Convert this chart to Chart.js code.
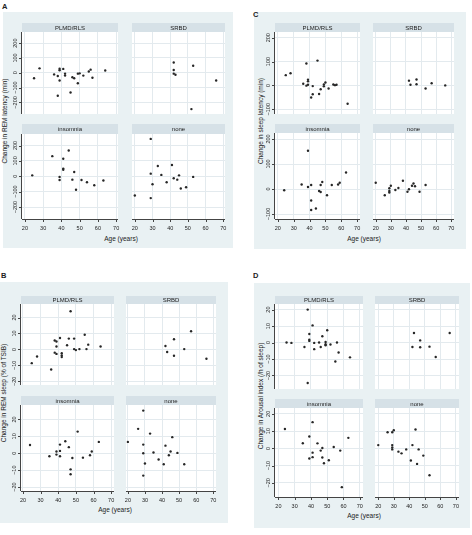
<!DOCTYPE html>
<html>
<head>
<meta charset="utf-8">
<script src="https://cdn.jsdelivr.net/npm/chart.js@4.4.1/dist/chart.umd.min.js"></script>
<style>
  body { margin: 0; width: 472px; height: 535px; background: #fff; position: relative; overflow: hidden;
         font-family: "Liberation Sans", Arial, sans-serif; color: #222; }
  .bg { position: absolute; background: #e9f1f3; }
  .txt { position: absolute; white-space: nowrap; line-height: 1; color: #222; }
  canvas { position: absolute; }
</style>
</head>
<body>
<script>
// Categorias e eixos
const groupNames = ['PLMD/RLS', 'SRBD', 'insomnia', 'none'];
const xTicks = [20, 30, 40, 50, 60, 70];

// A: change in REM latency (min) -- [idade, valor]
const remLatPlmd = [[25,-37],[28,30],[36,-11],[38,-22],[38,-155],[39,28],[39,17],[39,-52],[41,26],[42,-6],[42,-19],[45,-133],[46,-30],[47,-37],[49,-71],[49,-6],[50,-4],[52,-19],[55,9],[56,21],[57,-34],[64,15]];
const remLatSrbd = [[42,-6],[43,-13],[42,69],[42,19],[53,47],[52,-245],[66,-52]];
const remLatInsom = [[24,6],[35,131],[41,114],[44,168],[41,50],[41,42],[39,-4],[39,-24],[47,28],[46,-22],[48,-88],[51,-24],[54,-39],[58,-58],[63,-28]];
const remLatNone = [[20,-125],[29,243],[29,17],[29,-142],[30,-52],[33,67],[35,9],[38,-39],[41,73],[42,-13],[44,-22],[45,6],[46,-80],[49,-71],[53,-4]];

// B: change in REM sleep (% of TSIB)
const remPctPlmd = [[25,-8.6],[28,-4.4],[36,-12.6],[38,5.6],[39,5],[39,1.8],[38,-2],[39,-2.8],[41,7.2],[42,-2.4],[42,-3.8],[42,-4.8],[45,2.6],[46,6.8],[47,24],[49,6.8],[49,0.2],[50,-0.4],[52,0.2],[55,9.2],[56,0.2],[57,3],[64,1.8]];
const remPctSrbd = [[42,2.2],[43,-1.6],[47,6.4],[47,-4],[53,0.2],[57,11.4],[66,-5.8]];
const remPctInsom = [[24,4.9],[35,-1.8],[39,1],[39,-0.8],[41,5.1],[41,1.4],[41,-1.8],[44,7.1],[46,3.6],[47,-9.5],[47,-12.4],[48,-2.8],[51,12.8],[54,-2.6],[58,-1.2],[59,1],[63,6.7]];
const remPctNone = [[20,6.7],[26,14.4],[29,25.2],[29,5.1],[29,0],[29,-13.2],[30,-6.1],[33,11.6],[35,0.4],[38,-3.7],[41,-6.5],[42,4.5],[44,-1.2],[45,1],[46,9.5],[49,0.2],[53,-6.5]];

// C: change in sleep latency (min)
const slLatPlmd = [[25,43],[28,51],[36,7],[38,92],[38,-1],[39,3],[39,24],[39,17],[41,-51],[42,-37],[42,-3],[45,104],[46,-36],[47,-16],[49,-4],[49,4],[50,12],[52,-13],[55,4],[56,1],[57,3],[64,-77]];
const slLatSrbd = [[42,20],[43,3],[47,25],[47,5],[53,-13],[57,9],[66,0]];
const slLatInsom = [[24,-5],[35,18],[39,153],[39,8],[41,16],[41,-46],[41,-84],[44,-78],[46,-8],[47,-12],[47,16],[48,28],[51,-25],[54,16],[58,18],[59,25],[63,66]];
const slLatNone = [[20,25],[26,-25],[29,3],[29,-8],[29,-14],[30,13],[33,-4],[35,4],[38,33],[41,-11],[42,-1],[44,13],[45,22],[46,11],[49,-11],[53,16]];

// D: change in arousal index (/h of sleep)
const arPlmd = [[25,0],[28,-0.2],[36,-2.7],[38,20],[38,-24.6],[39,5.2],[39,1.7],[39,1],[41,10.4],[42,-0.2],[42,-4],[45,0],[46,-2.7],[47,3.8],[49,0.4],[49,-1],[49,-1.7],[50,7.5],[52,-1.2],[55,-11.5],[56,0],[57,-6],[64,-9]];
const arSrbd = [[42,-2.7],[43,5.8],[47,1.3],[47,-2.9],[53,-2.5],[57,-8.8],[66,5.8]];
const arInsom = [[24,11.2],[35,3],[39,6.9],[39,-5.9],[41,15.2],[41,-2.5],[41,-5.1],[44,2.9],[46,-1.3],[47,0.2],[47,-5.3],[48,-8.6],[51,-6.9],[54,0.8],[58,-1.3],[59,-22.5],[63,6.1]];
const arNone = [[20,1.9],[26,9.3],[29,9.3],[29,1.9],[29,0.5],[29,-0.6],[30,10.5],[33,-1.9],[35,-2.9],[38,-0.6],[41,-7],[42,1.9],[44,10.9],[45,-9],[46,-0.6],[49,-4.2],[53,-15.6]];

// Layout de cada painel
const panels = [
  { letter: 'A', letterXY: [2, 3], bg: [3, 12, 230, 236],
    cols: [[22, 122], [128, 229]], rows: [[23, 32, 118], [124, 134, 219]],
    xRange: [18.4, 71], yRange: [-278, 275], yTicks: [-200, -100, 0, 100, 200],
    yTitle: 'Change in REM latency (min)', yTitleXY: [5, 121], xTitleXY: [121, 239],
    sets: [remLatPlmd, remLatSrbd, remLatInsom, remLatNone] },
  { letter: 'C', letterXY: [253, 11], bg: [254, 12, 212, 237],
    cols: [[275, 364], [369, 458]], rows: [[23, 32, 118], [124, 133, 219]],
    xRange: [18.2, 71.8], yRange: [-120, 224], yTicks: [-100, 0, 100, 200],
    yTitle: 'Change in sleep latency (min)', yTitleXY: [261, 121], xTitleXY: [364, 239],
    sets: [slLatPlmd, slLatSrbd, slLatInsom, slLatNone] },
  { letter: 'B', letterXY: [1, 272], bg: [0, 282, 228, 241],
    cols: [[21, 118], [122, 220]], rows: [[296, 304, 389], [396, 405, 491]],
    xRange: [18.9, 71.6], yRange: [-22.3, 28.5], yTicks: [-20, -10, 0, 10, 20],
    yTitle: 'Change in REM sleep (% of TSIB)', yTitleXY: [4, 393], xTitleXY: [115, 510],
    sets: [remPctPlmd, remPctSrbd, remPctInsom, remPctNone] },
  { letter: 'D', letterXY: [253, 272], bg: [254, 283, 216, 245],
    cols: [[275, 367], [371, 463]], rows: [[296, 304, 393], [399, 408, 497]],
    xRange: [17.9, 72], yRange: [-28.2, 23.4], yTicks: [-20, -10, 0, 10, 20],
    yTitle: 'Change in Arousal index (/h of sleep)', yTitleXY: [261, 396], xTitleXY: [364, 516],
    sets: [arPlmd, arSrbd, arInsom, arNone] }
];

const gridColor = '#e3eaee';
const stripColor = '#d6e1e7';
const axisColor = '#444';
const tickFont = '5.5px "Liberation Sans", Arial, sans-serif';

function fmt(v) {
  return v < 0 ? '\u2212' + Math.abs(v) : String(v);
}

function addText(str, x, y, css) {
  const d = document.createElement('div');
  d.className = 'txt';
  d.textContent = str;
  d.style.left = x + 'px';
  d.style.top = y + 'px';
  Object.assign(d.style, css);
  document.body.appendChild(d);
}

// Plugin: fundo do plot, faixa com o nome do grupo, eixos com marcas
const facetPlugin = {
  id: 'facet',
  beforeDraw(chart) {
    const a = chart.chartArea, ctx = chart.ctx, o = chart.options.facet;
    ctx.save();
    ctx.fillStyle = '#fff';
    ctx.fillRect(a.left, a.top, a.right - a.left, a.bottom - a.top);
    ctx.fillStyle = stripColor;
    ctx.fillRect(a.left, 0, a.right - a.left, a.top);
    ctx.fillStyle = '#222';
    ctx.font = '6px "Liberation Sans", Arial, sans-serif';
    ctx.textAlign = 'center';
    ctx.textBaseline = 'middle';
    ctx.fillText(o.name, (a.left + a.right) / 2, a.top / 2 + 0.5);
    ctx.restore();
  },
  afterDraw(chart) {
    const a = chart.chartArea, ctx = chart.ctx, o = chart.options.facet;
    const xs = chart.scales.x, ys = chart.scales.y;
    ctx.save();
    ctx.strokeStyle = axisColor;
    ctx.fillStyle = '#222';
    ctx.lineWidth = 1;
    ctx.font = tickFont;
    if (o.showY) {
      ctx.beginPath();
      ctx.moveTo(a.left - 0.5, a.top);
      ctx.lineTo(a.left - 0.5, a.bottom);
      o.yTicks.forEach(v => {
        const py = Math.round(ys.getPixelForValue(v)) + 0.5;
        ctx.moveTo(a.left - 3, py);
        ctx.lineTo(a.left, py);
      });
      ctx.stroke();
      ctx.textAlign = 'center';
      ctx.textBaseline = 'middle';
      o.yTicks.forEach(v => {
        ctx.save();
        ctx.translate(a.left - 6.5, ys.getPixelForValue(v));
        ctx.rotate(-Math.PI / 2);
        ctx.fillText(fmt(v), 0, 0);
        ctx.restore();
      });
    }
    if (o.showX) {
      ctx.beginPath();
      ctx.moveTo(a.left, a.bottom + 0.5);
      ctx.lineTo(a.right, a.bottom + 0.5);
      xTicks.forEach(v => {
        const px = Math.round(xs.getPixelForValue(v)) + 0.5;
        ctx.moveTo(px, a.bottom);
        ctx.lineTo(px, a.bottom + 3);
      });
      ctx.stroke();
      ctx.textAlign = 'center';
      ctx.textBaseline = 'middle';
      xTicks.forEach(v => {
        ctx.fillText(String(v), xs.getPixelForValue(v), a.bottom + 9);
      });
    }
    ctx.restore();
  }
};

function makeFacet(p, gi) {
  const c = gi % 2, r = Math.floor(gi / 2);
  const [L, R] = p.cols[c];
  const [sT, T, B] = p.rows[r];
  const padL = c === 0 ? 14 : 0;
  const padB = r === 1 ? 14 : 0;
  const cv = document.createElement('canvas');
  cv.width = R - L + padL;
  cv.height = B - sT + padB;
  cv.style.left = (L - padL) + 'px';
  cv.style.top = sT + 'px';
  document.body.appendChild(cv);

  new Chart(cv, {
    type: 'scatter',
    data: {
      datasets: [{
        data: p.sets[gi].map(([x, y]) => ({ x, y })),
        pointRadius: 1.2,
        pointBackgroundColor: '#262626',
        pointBorderWidth: 0
      }]
    },
    options: {
      responsive: false,
      animation: false,
      events: [],
      layout: { padding: { left: padL, right: 0, top: T - sT, bottom: padB } },
      plugins: { legend: { display: false }, tooltip: { enabled: false } },
      facet: { name: groupNames[gi], showY: c === 0, showX: r === 1, yTicks: p.yTicks },
      scales: {
        x: {
          type: 'linear', min: p.xRange[0], max: p.xRange[1],
          afterBuildTicks: s => { s.ticks = xTicks.map(v => ({ value: v })); },
          afterFit: s => { s.height = 0; },
          ticks: { display: false },
          grid: { color: gridColor, drawTicks: false },
          border: { display: false }
        },
        y: {
          type: 'linear', min: p.yRange[0], max: p.yRange[1],
          afterBuildTicks: s => { s.ticks = p.yTicks.map(v => ({ value: v })); },
          afterFit: s => { s.width = 0; },
          ticks: { display: false },
          grid: { color: gridColor, drawTicks: false },
          border: { display: false }
        }
      }
    },
    plugins: [facetPlugin]
  });
}

panels.forEach(p => {
  const bg = document.createElement('div');
  bg.className = 'bg';
  bg.style.left = p.bg[0] + 'px';
  bg.style.top = p.bg[1] + 'px';
  bg.style.width = p.bg[2] + 'px';
  bg.style.height = p.bg[3] + 'px';
  document.body.appendChild(bg);

  addText(p.letter, p.letterXY[0], p.letterXY[1], { fontSize: '7.5px', fontWeight: 'bold' });
  addText(p.yTitle, p.yTitleXY[0], p.yTitleXY[1],
    { fontSize: '6.5px', transform: 'translate(-50%,-50%) rotate(-90deg)' });
  addText('Age (years)', p.xTitleXY[0], p.xTitleXY[1],
    { fontSize: '6.5px', transform: 'translate(-50%,-50%)' });

  for (let gi = 0; gi < 4; gi++) makeFacet(p, gi);
});
</script>
</body>
</html>
